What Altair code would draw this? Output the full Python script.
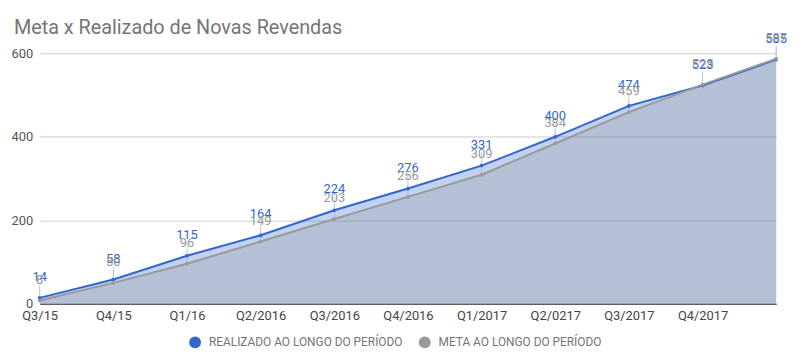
import altair as alt
import pandas as pd

categories = ["Q3/15", "Q4/15", "Q1/16", "Q2/2016", "Q3/2016", "Q4/2016",
              "Q1/2017", "Q2/0217", "Q3/2017", "Q4/2017", ""]
realizado = [14, 58, 115, 164, 224, 276, 331, 400, 474, 523, 585]
meta = [8, 50, 96, 149, 203, 256, 309, 384, 459, 525, 587]

S_R = "REALIZADO AO LONGO DO PERÍODO"
S_M = "META AO LONGO DO PERÍODO"
series_names = [S_R, S_M]
series_colors = ["#3366cc", "#999999"]
title_text = "Meta x Realizado de Novas Revendas"

rows = []
for name, vals in [(S_R, realizado), (S_M, meta)]:
    for c, v in zip(categories, vals):
        rows.append({"cat": c, "series": name, "value": v, "label": str(v)})
df = pd.DataFrame(rows)

FONT = "Roboto"

x_enc = alt.X("cat:N", scale=alt.Scale(type="point", domain=categories, padding=0),
              axis=alt.Axis(title=None, labelAngle=0, ticks=False, domain=True,
                            domainColor="#333333", domainWidth=1, grid=False,
                            labelColor="#444444", labelFontSize=13, labelFont=FONT,
                            labelPadding=6))
y_enc = alt.Y("value:Q", stack=None, scale=alt.Scale(domain=[0, 600], nice=False),
              axis=alt.Axis(title=None, values=[0, 200, 400, 600], grid=True,
                            gridColor="#cccccc", domain=False, ticks=False,
                            labelColor="#555555", labelFontSize=13, labelFont=FONT,
                            labelPadding=7))
color_scale = alt.Scale(domain=series_names, range=series_colors)

base = alt.Chart(df).encode(x=x_enc, y=y_enc)


def sub(name):
    return base.transform_filter(alt.datum.series == name)


layers = []
for name, col in zip(series_names, series_colors):
    layers.append(sub(name).mark_area(color=col, opacity=0.3))
for name, col in zip(series_names, series_colors):
    layers.append(sub(name).mark_line(color=col, strokeWidth=2))
for name, col in zip(series_names, series_colors):
    layers.append(sub(name).mark_tick(orient="vertical", size=13, yOffset=-7,
                                      thickness=1, color=col, opacity=0.3))

pts = base.mark_circle(size=14, opacity=1).encode(
    color=alt.Color("series:N", scale=color_scale,
                    legend=alt.Legend(title=None, orient="none", direction="horizontal",
                                      legendX=151, legendY=286, symbolType="circle",
                                      symbolSize=144, symbolOpacity=1,
                                      symbolStrokeWidth=0, labelFont=FONT,
                                      labelFontSize=12, labelColor="#757575",
                                      labelLimit=0, labelOffset=8, columnPadding=16,
                                      padding=0)))
layers.append(pts)

for name, col in zip(series_names, series_colors):
    layers.append(sub(name).mark_text(baseline="alphabetic", dy=-17, fontSize=13,
                                      font=FONT, color=col).encode(text="label:N"))

title = alt.Chart(pd.DataFrame({"t": [title_text]})).mark_text(
    align="left", baseline="alphabetic", fontSize=20, font=FONT, color="#757575"
).encode(text="t:N", x=alt.value(-26), y=alt.value(-20))
layers.append(title)

chart = alt.layer(*layers).properties(
    width=744, height=253,
    autosize=alt.AutoSizeParams(type="none"),
    padding={"left": 32, "top": 44, "right": 18, "bottom": 50},
).configure_view(stroke=None)

chart.save("out.html", embed_options={"renderer": "svg", "actions": False})
